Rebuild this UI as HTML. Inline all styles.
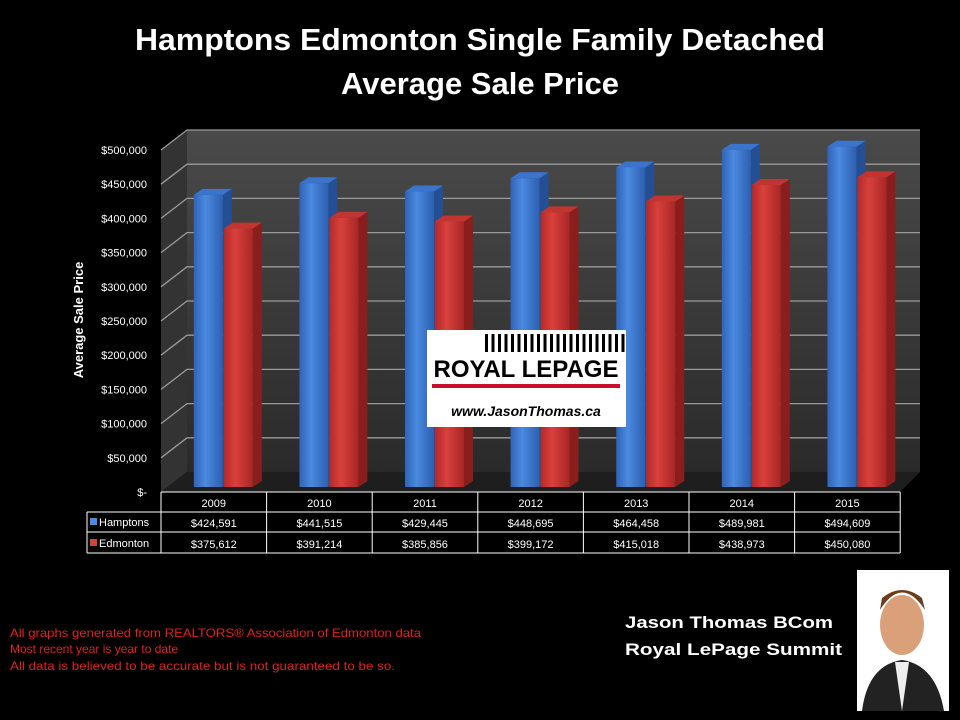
<!DOCTYPE html>
<html><head><meta charset="utf-8"><style>
body{margin:0;background:#000;width:960px;height:720px;overflow:hidden;font-family:"Liberation Sans",sans-serif}
</style></head><body>
<svg width="960" height="720" style="position:absolute;left:0;top:0">
<defs>
<linearGradient id="bl" x1="0" x2="1"><stop offset="0" stop-color="#2f63b8"/><stop offset="0.4" stop-color="#4a8ae0"/><stop offset="1" stop-color="#2c5fb0"/></linearGradient>
<linearGradient id="rd" x1="0" x2="1"><stop offset="0" stop-color="#b32a28"/><stop offset="0.4" stop-color="#d9403c"/><stop offset="1" stop-color="#a82624"/></linearGradient>
<linearGradient id="wall" x1="0" y1="0" x2="0" y2="1"><stop offset="0" stop-color="#4a4a4a"/><stop offset="1" stop-color="#2a2a2a"/></linearGradient>
</defs>
<text x="480" y="50" fill="#fff" font-size="31" font-weight="bold" text-anchor="middle" textLength="690" lengthAdjust="spacingAndGlyphs">Hamptons Edmonton Single Family Detached</text>
<text x="480" y="94" fill="#fff" font-size="31" font-weight="bold" text-anchor="middle">Average Sale Price</text>
<polygon points="187,130 920,130 920,472 187,472" fill="url(#wall)"/>
<polygon points="161,150 187,130 187,472 161,492" fill="#333"/>
<polygon points="161,492 187,472 920,472 900,492" fill="#1e1e1e"/>
<g id="grid"></g><g id="ylab"></g><g id="bars"></g><g id="tbl"></g>
<text transform="translate(83,320) rotate(-90)" fill="#fff" font-size="13" font-weight="bold" text-anchor="middle">Average Sale Price</text>
<g>
<rect x="427" y="330" width="199" height="97" fill="#fff"/>
<g id="stripes"></g>
<text x="526" y="377" font-size="24" font-weight="bold" fill="#000" text-anchor="middle">ROYAL LEPAGE</text>
<rect x="432" y="384" width="188" height="4" fill="#c8102e"/>
<text x="526" y="416" font-size="14" font-style="italic" font-weight="bold" fill="#000" text-anchor="middle">www.JasonThomas.ca</text>
</g>
<text x="10" y="637" fill="#e02020" font-size="12" textLength="411" lengthAdjust="spacingAndGlyphs">All graphs generated from REALTORS® Association of Edmonton data</text>
<text x="10" y="653" fill="#e02020" font-size="12">Most recent year is year to date</text>
<text x="10" y="670" fill="#e02020" font-size="12" textLength="385" lengthAdjust="spacingAndGlyphs">All data is believed to be accurate but is not guaranteed to be so.</text>
<text x="625" y="628" fill="#fff" font-size="17" font-weight="bold" textLength="208" lengthAdjust="spacingAndGlyphs">Jason Thomas BCom</text>
<text x="625" y="655" fill="#fff" font-size="17" font-weight="bold" textLength="217" lengthAdjust="spacingAndGlyphs">Royal LePage Summit</text>
<g>
<rect x="857" y="570" width="92" height="141" fill="#fff"/>
<ellipse cx="902" cy="625" rx="22" ry="30" fill="#d9a07a"/>
<path d="M880 610 Q902 575 925 610 L922 598 Q902 582 882 598Z" fill="#6b3d1e"/>
<path d="M862 711 Q868 665 902 660 Q936 665 944 711Z" fill="#222"/>
<path d="M895 662 L902 711 L909 662Z" fill="#eee"/>
</g>
</svg>
<script>
const categories=["2009","2010","2011","2012","2013","2014","2015"];
const hamptons=[424591,441515,429445,448695,464458,489981,494609];
const edmonton=[375612,391214,385856,399172,415018,438973,450080];
const hamptonsLabels=["$424,591","$441,515","$429,445","$448,695","$464,458","$489,981","$494,609"];
const edmontonLabels=["$375,612","$391,214","$385,856","$399,172","$415,018","$438,973","$450,080"];
const yTicks=[0,50000,100000,150000,200000,250000,300000,350000,400000,450000,500000];
const yTickLabels=["$-","$50,000","$100,000","$150,000","$200,000","$250,000","$300,000","$350,000","$400,000","$450,000","$500,000"];
const NS="http://www.w3.org/2000/svg";
function mk(t,a,p,txt){const e=document.createElementNS(NS,t);for(const k in a)e.setAttribute(k,a[k]);if(txt!=null)e.textContent=txt;p.appendChild(e);return e;}
const yFront=v=>492-v/50000*34.2, yBack=v=>472-v/50000*34.2, yBar=v=>487-v/50000*34.4;
const x0=161,cw=105.6,xc=i=>x0+cw*i+cw/2;
const g=document.getElementById('grid'),yl=document.getElementById('ylab'),b=document.getElementById('bars'),t=document.getElementById('tbl');
yTicks.forEach((v,i)=>{
 if(v>0){const l=mk('polyline',{points:`161,${yFront(v)} 187,${yBack(v)} 920,${yBack(v)}`,fill:'none',stroke:'#9a9a9a','stroke-width':1.3},g);
 
 }
 const tx=mk('text',{x:147,y:yFront(v)+4,fill:'#fff','font-size':11,'text-anchor':'end'},yl,yTickLabels[i]);
 
 
});
function bar(x,v,fill,side,top,name){
 const y=yBar(v),w=29,d=9,dy=6;
 const gg=mk('g',{},b);
 
 
 mk('polygon',{points:`${x+w},${y} ${x+w+d},${y-dy} ${x+w+d},${487-dy} ${x+w},487`,fill:side},gg);
 mk('polygon',{points:`${x},${y} ${x+d},${y-dy} ${x+w+d},${y-dy} ${x+w},${y}`,fill:top},gg);
 mk('rect',{x:x,y:y,width:w,height:487-y,fill:fill},gg);
}
categories.forEach((c,i)=>{
 bar(xc(i)-20,hamptons[i],'url(#bl)','#244f94','#3a74cc','bar-hamptons-'+c);
 bar(xc(i)+10,edmonton[i],'url(#rd)','#8a1e1c','#c23430','bar-edmonton-'+c);
});
const L=87,R=x0+cw*7;
mk('line',{x1:x0,y1:492,x2:R,y2:492,stroke:'#fff'},t);
mk('line',{x1:L,y1:512,x2:R,y2:512,stroke:'#fff'},t);
mk('line',{x1:L,y1:532,x2:R,y2:532,stroke:'#fff'},t);
mk('line',{x1:L,y1:553,x2:R,y2:553,stroke:'#fff'},t);
mk('line',{x1:L,y1:512,x2:L,y2:553,stroke:'#fff'},t);
for(let i=0;i<=7;i++)mk('line',{x1:x0+cw*i,y1:492,x2:x0+cw*i,y2:553,stroke:'#fff'},t);
categories.forEach((c,i)=>{
 const a=mk('text',{x:xc(i),y:507,fill:'#fff','font-size':11,'text-anchor':'middle'},t,c);
 
 
 const h=mk('text',{x:xc(i),y:527,fill:'#fff','font-size':11,'text-anchor':'middle'},t,hamptonsLabels[i]);
 
 
 const e=mk('text',{x:xc(i),y:548,fill:'#fff','font-size':11,'text-anchor':'middle'},t,edmontonLabels[i]);
 
 
});
mk('rect',{x:90,y:518,width:7,height:7,fill:'#4a8ae0'},t);
mk('rect',{x:90,y:539,width:7,height:7,fill:'#d9403c'},t);
const lh=mk('text',{x:99,y:526,fill:'#fff','font-size':11},t,'Hamptons');


const le=mk('text',{x:99,y:547,fill:'#fff','font-size':11},t,'Edmonton');


const s=document.getElementById('stripes');
for(let i=0;i<22;i++)mk('rect',{x:485+i*6.5,y:334,width:3,height:18,fill:'#000'},s);
</script>
</body></html>
